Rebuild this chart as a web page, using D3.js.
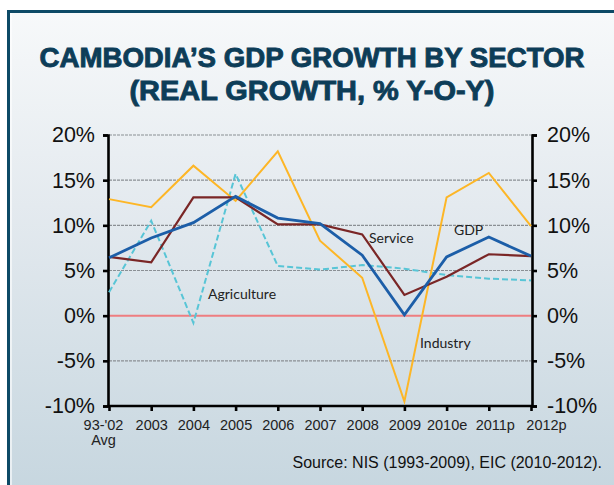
<!DOCTYPE html>
<html><head><meta charset="utf-8">
<script src="https://cdn.jsdelivr.net/npm/d3@7"></script>
<style>html,body{margin:0;padding:0;background:#fff;}svg{display:block;}</style>
</head><body>
<script>
const categories = ["93-'02|Avg","2003","2004","2005","2006","2007","2008","2009","2010e","2011p","2012p"];
const gdp         = [6.4, 8.6, 10.3, 13.2, 10.8, 10.2, 6.7, 0.1, 6.5, 8.7, 6.6];
const service     = [6.5, 5.9, 13.1, 13.1, 10.1, 10.1, 9.0, 2.3, 4.3, 6.8, 6.6];
const industry    = [12.9, 12.0, 16.6, 12.7, 18.2, 8.3, 4.2, -9.5, 13.1, 15.8, 9.9];
const agriculture = [2.6, 10.5, -0.8, 15.7, 5.5, 5.1, 5.6, 5.2, 4.5, 4.1, 3.9];
const yTicks = [-10, -5, 0, 5, 10, 15, 20];
const titleLines = ["CAMBODIA\u2019S GDP GROWTH BY SECTOR", "(REAL GROWTH, % Y-O-Y)"];
const sourceText = "Source: NIS (1993-2009), EIC (2010-2012).";

const W = 614, H = 485;
const svg = d3.select("body").append("svg").attr("width", W).attr("height", H);
const defs = svg.append("defs");
const grad = defs.append("linearGradient").attr("id","bg").attr("x1",0).attr("y1",0).attr("x2",0).attr("y2",1);
grad.append("stop").attr("offset","0%").attr("stop-color","#f7f9fa");
grad.append("stop").attr("offset","40%").attr("stop-color","#e4eaef");
grad.append("stop").attr("offset","100%").attr("stop-color","#c6d6df");

svg.append("rect").attr("x",8).attr("y",11).attr("width",W).attr("height",H).attr("fill","url(#bg)");
svg.append("line").attr("x1",8.5).attr("x2",8.5).attr("y1",10).attr("y2",H).attr("stroke","#0d4a66").attr("stroke-width",3);
svg.append("line").attr("x1",7).attr("x2",W).attr("y1",11.5).attr("y2",11.5).attr("stroke","#0d4a66").attr("stroke-width",3);
svg.append("line").attr("x1",11).attr("x2",11).attr("y1",13).attr("y2",H).attr("stroke","#ffffff").attr("stroke-opacity",0.6).attr("stroke-width",2);

// title
const tt = svg.append("g").attr("fill","#0d3d58").attr("stroke","#0d3d58").attr("stroke-width",0.9)
  .attr("font-family","'Liberation Sans', Arial, sans-serif").attr("font-weight","bold").attr("text-anchor","middle");
tt.append("text").attr("x",312).attr("y",67).attr("font-size",27).attr("textLength",545).attr("lengthAdjust","spacingAndGlyphs").text(titleLines[0]);
tt.append("text").attr("x",312).attr("y",100).attr("font-size",27).attr("textLength",365).attr("lengthAdjust","spacingAndGlyphs").text(titleLines[1]);

const x = d3.scalePoint().domain(categories).range([109, 531]);
const y = d3.scaleLinear().domain([-10, 20]).range([406, 135]);

// grid
svg.append("g").selectAll("line").data(yTicks.filter(d => d !== -10 && d !== 0)).join("line")
  .attr("x1",109).attr("x2",531).attr("y1",d=>y(d)).attr("y2",d=>y(d))
  .attr("stroke","#8a8f94").attr("stroke-width",1.2).attr("stroke-dasharray","3,1");
svg.append("line").attr("x1",109).attr("x2",531).attr("y1",y(0)).attr("y2",y(0))
  .attr("stroke","#ee7d80").attr("stroke-width",2);

const fmt = d => d + "%";
const axL = svg.append("g").attr("transform","translate(108,0)")
  .call(d3.axisLeft(y).tickValues(yTicks).tickFormat(fmt).tickSize(5).tickPadding(8));
const axR = svg.append("g").attr("transform","translate(532,0)")
  .call(d3.axisRight(y).tickValues(yTicks).tickFormat(fmt).tickSize(5).tickPadding(10));
[axL, axR].forEach(a => {
  a.select(".domain").attr("stroke","#000").attr("stroke-width",2.6);
  a.selectAll(".tick line").attr("stroke","#000").attr("stroke-width",2.6);
  a.selectAll("text").attr("font-family","'Liberation Sans', Arial, sans-serif").attr("font-size",21.5).attr("fill","#111");
});

const axB = svg.append("g").attr("transform","translate(0,406)")
  .call(d3.axisBottom(x).tickSize(5).tickPadding(5).tickFormat(""));
axB.select(".domain").attr("stroke","#000").attr("stroke-width",2.6).attr("d","M107,0H533");
axB.selectAll(".tick line").attr("stroke","#000").attr("stroke-width",2.6);
axB.selectAll(".tick").each(function(d){
  const parts = d.split("|");
  const t = d3.select(this).append("text").attr("fill","#222")
    .attr("font-family","'Liberation Sans', Arial, sans-serif").attr("font-size",14.5).attr("text-anchor","middle");
  const dx = d === "93-'02|Avg" ? -6 : (d === "2012p" ? 15 : (d === "2011p" ? 6 : 0));
  parts.forEach((p,i) => t.append("tspan").attr("x",dx).attr("y", 24 + i*15).text(p));
});

const line = d3.line().x((d,i) => x(categories[i])).y(d => y(d));
svg.append("path").datum(agriculture).attr("d",line).attr("fill","none").attr("stroke","#58c5d6").attr("stroke-width",2).attr("stroke-dasharray","6,3");
svg.append("path").datum(industry).attr("d",line).attr("fill","none").attr("stroke","#fdb626").attr("stroke-width",2);
svg.append("path").datum(service).attr("d",line).attr("fill","none").attr("stroke","#7a2626").attr("stroke-width",2.2);
svg.append("path").datum(gdp).attr("d",line).attr("fill","none").attr("stroke","#1c5ea8").attr("stroke-width",2.8);

const lab = svg.append("g").attr("font-family","Lato, 'Open Sans', sans-serif").attr("font-size",14).attr("fill","#222");
lab.append("text").attr("x",208).attr("y",299).text("Agriculture");
lab.append("text").attr("x",369).attr("y",243).text("Service");
lab.append("text").attr("x",454).attr("y",235).text("GDP");
lab.append("text").attr("x",420).attr("y",348).text("Industry");

svg.append("text").attr("x",602).attr("y",468).attr("text-anchor","end")
  .attr("font-family","'Liberation Sans', Arial, sans-serif").attr("font-size",16).attr("fill","#111").text(sourceText);
</script>
</body></html>
